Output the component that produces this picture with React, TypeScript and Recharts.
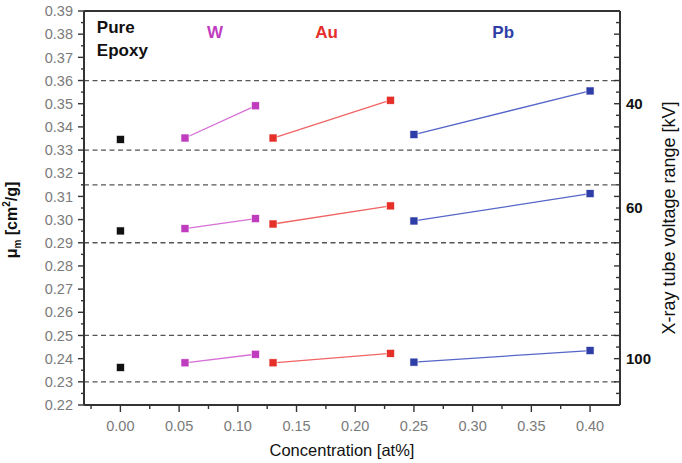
import React from 'react';
import { ComposedChart, Line, XAxis, YAxis, ReferenceLine, ReferenceDot } from 'recharts';

// ---- data (x: concentration at%, y: mass attenuation coefficient cm2/g) ----
const epoxyX = [0];
const epoxy40 = [0.3346];
const epoxy60 = [0.2951];
const epoxy100 = [0.2362];

const wX = [0.055, 0.115];
const w40 = [0.3352, 0.3491];
const w60 = [0.2961, 0.3004];
const w100 = [0.2382, 0.2419];

const auX = [0.13, 0.23];
const au40 = [0.3352, 0.3515];
const au60 = [0.2981, 0.3059];
const au100 = [0.2382, 0.2423];

const pbX = [0.25, 0.40];
const pb40 = [0.3367, 0.3555];
const pb60 = [0.2994, 0.3112];
const pb100 = [0.2385, 0.2435];

const bandLines = [0.36, 0.33, 0.315, 0.29, 0.25, 0.23];
const voltageLabels = [
  { y: 0.35, label: '40' },
  { y: 0.305, label: '60' },
  { y: 0.24, label: '100' },
];

const xTicks = [-0.025, 0, 0.025, 0.05, 0.075, 0.1, 0.125, 0.15, 0.175, 0.2, 0.225, 0.25, 0.275, 0.3, 0.325, 0.35, 0.375, 0.4];
const yTicks: number[] = [];
for (let k = 0; k <= 34; k++) yTicks.push(Math.round((0.22 + k * 0.005) * 1000) / 1000);

const X_DOMAIN = [-0.031, 0.4255];
const Y_DOMAIN = [0.22, 0.39];

const C_BLACK = '#111111';
const C_W = '#c03cbf';
const C_W_LINE = '#d66fd6';
const C_AU = '#e5302a';
const C_AU_LINE = '#f06464';
const C_PB = '#2e3ea6';
const C_PB_LINE = '#5566c8';

const seg = (xs: number[], ys: number[]) => xs.map((x, i) => ({ x, y: ys[i] }));

const isMajor = (v: number, step: number) => {
  const r = v / step;
  return Math.abs(r - Math.round(r)) < 1e-6;
};

const LeftTick = (props: any) => {
  const { x, y, payload } = props;
  const v = payload.value as number;
  const major = isMajor(v, 0.01);
  return (
    <g>
      <line x1={x} x2={x - (major ? 6 : 3)} y1={y} y2={y} stroke="#333" strokeWidth={1.4} />
      {major && (
        <text x={x - 11} y={y} dy="0.355em" textAnchor="end" fill="#7a7a7a" fontSize={14.5}>
          {v.toFixed(2)}
        </text>
      )}
    </g>
  );
};

const RightTick = (props: any) => {
  const { x, y, payload } = props;
  const v = payload.value as number;
  const major = isMajor(v, 0.01);
  const lab = voltageLabels.find((l) => Math.abs(l.y - v) < 1e-6);
  return (
    <g>
      <line x1={x} x2={x - (major ? 6 : 4)} y1={y} y2={y} stroke="#333" strokeWidth={1.4} />
      {lab && (
        <text x={x + 6} y={y} dy="0.355em" textAnchor="start" fill="#111" fontSize={15} fontWeight="bold">
          {lab.label}
        </text>
      )}
    </g>
  );
};

const BottomTick = (props: any) => {
  const { x, y, payload } = props;
  const v = payload.value as number;
  const major = isMajor(v, 0.05);
  return (
    <g>
      <line x1={x} x2={x} y1={y} y2={y + (major ? 7 : 4)} stroke="#333" strokeWidth={1.4} />
      {major && (
        <text x={x} y={y + 25.5} textAnchor="middle" fill="#7a7a7a" fontSize={14.5}>
          {v.toFixed(2)}
        </text>
      )}
    </g>
  );
};

const makeDot = (color: string) => (props: any) => {
  const { cx, cy, index } = props;
  if (cx == null || cy == null) return <g key={index} />;
  return (
    <rect key={index} x={cx - 4} y={cy - 4} width={8} height={8} fill={color} stroke="#ffffff" strokeWidth={0.6} />
  );
};

const LeftLabel = (props: any) => {
  const { viewBox } = props;
  const cx = viewBox.x + 17;
  const cy = viewBox.y + viewBox.height / 2 + 12;
  return (
    <text
      x={cx}
      y={cy}
      transform={`rotate(-90, ${cx}, ${cy})`}
      textAnchor="middle"
      fill="#111"
      fontSize={16}
      fontWeight="bold"
    >
      μ<tspan dy={4} fontSize={10}>m</tspan>
      <tspan dy={-4}> [cm</tspan>
      <tspan dy={-7} fontSize={10}>2</tspan>
      <tspan dy={7}>/g]</tspan>
    </text>
  );
};

const RightLabel = (props: any) => {
  const { viewBox } = props;
  const cx = viewBox.x + 55;
  const cy = viewBox.y + viewBox.height / 2 + 10;
  return (
    <text
      x={cx}
      y={cy}
      transform={`rotate(-90, ${cx}, ${cy})`}
      textAnchor="middle"
      fill="#111"
      fontSize={18}
    >
      X-ray tube voltage range [kV]
    </text>
  );
};

const BottomLabel = (props: any) => {
  const { viewBox } = props;
  const cx = viewBox.x + viewBox.width / 2 - 10;
  return (
    <text x={cx} y={viewBox.y + 51} textAnchor="middle" fill="#111" fontSize={16.5}>
      Concentration [at%]
    </text>
  );
};

const series = [
  { name: 'epoxy40', data: seg(epoxyX, epoxy40), dot: C_BLACK, line: C_BLACK },
  { name: 'epoxy60', data: seg(epoxyX, epoxy60), dot: C_BLACK, line: C_BLACK },
  { name: 'epoxy100', data: seg(epoxyX, epoxy100), dot: C_BLACK, line: C_BLACK },
  { name: 'w40', data: seg(wX, w40), dot: C_W, line: C_W_LINE },
  { name: 'w60', data: seg(wX, w60), dot: C_W, line: C_W_LINE },
  { name: 'w100', data: seg(wX, w100), dot: C_W, line: C_W_LINE },
  { name: 'au40', data: seg(auX, au40), dot: C_AU, line: C_AU_LINE },
  { name: 'au60', data: seg(auX, au60), dot: C_AU, line: C_AU_LINE },
  { name: 'au100', data: seg(auX, au100), dot: C_AU, line: C_AU_LINE },
  { name: 'pb40', data: seg(pbX, pb40), dot: C_PB, line: C_PB_LINE },
  { name: 'pb60', data: seg(pbX, pb60), dot: C_PB, line: C_PB_LINE },
  { name: 'pb100', data: seg(pbX, pb100), dot: C_PB, line: C_PB_LINE },
];

const annotations = [
  { x: -0.0205, y: 0.3832, text: 'Pure', color: '#111', pos: 'right' },
  { x: -0.0205, y: 0.3733, text: 'Epoxy', color: '#111', pos: 'right' },
  { x: 0.0805, y: 0.3808, text: 'W', color: C_W, pos: 'center' },
  { x: 0.1755, y: 0.3808, text: 'Au', color: C_AU, pos: 'center' },
  { x: 0.326, y: 0.3808, text: 'Pb', color: C_PB, pos: 'center' },
];

export default function App() {
  return (
    <div
      style={{
        position: 'absolute',
        left: 0,
        top: 0,
        width: 682,
        height: 463,
        background: '#ffffff',
        fontFamily: '"Liberation Sans", Arial, sans-serif',
      }}
    >
      <ComposedChart width={682} height={463} margin={{ top: 11, right: 0, bottom: 0, left: 0 }}>
        <XAxis
          type="number"
          dataKey="x"
          domain={X_DOMAIN}
          ticks={xTicks}
          interval={0}
          height={58}
          tickSize={0}
          tickMargin={0}
          tick={<BottomTick />}
          axisLine={{ stroke: '#333', strokeWidth: 2 }}
          allowDataOverflow
          label={<BottomLabel />}
        />
        <YAxis
          yAxisId="left"
          type="number"
          domain={Y_DOMAIN}
          ticks={yTicks}
          interval={0}
          width={84}
          tickSize={0}
          tickMargin={0}
          tick={<LeftTick />}
          axisLine={{ stroke: '#333', strokeWidth: 2 }}
          allowDataOverflow
          label={<LeftLabel />}
        />
        <YAxis
          yAxisId="right"
          orientation="right"
          type="number"
          domain={Y_DOMAIN}
          ticks={yTicks.filter((t) => t > 0.22 && t < 0.39)}
          interval={0}
          width={62}
          tickSize={0}
          tickMargin={0}
          tick={<RightTick />}
          axisLine={{ stroke: '#333', strokeWidth: 2 }}
          allowDataOverflow
          label={<RightLabel />}
        />
        {bandLines.map((v) => (
          <ReferenceLine
            key={`band-${v}`}
            yAxisId="left"
            y={v}
            stroke="#555"
            strokeWidth={1.3}
            strokeDasharray="5 3.5"
          />
        ))}
        <ReferenceLine yAxisId="left" y={0.39} stroke="#333" strokeWidth={2} />
        {series.map((s) => (
          <Line
            key={s.name}
            yAxisId="left"
            data={s.data}
            dataKey="y"
            name={s.name}
            stroke={s.line}
            strokeWidth={1.3}
            dot={makeDot(s.dot)}
            activeDot={false}
            isAnimationActive={false}
            legendType="none"
          />
        ))}
        {annotations.map((a) => (
          <ReferenceDot
            key={a.text}
            yAxisId="left"
            x={a.x}
            y={a.y}
            r={0.5}
            fill="none"
            stroke="none"
            label={{
              value: a.text,
              position: a.pos as any,
              offset: 0,
              fill: a.color,
              fontSize: 17,
              fontWeight: 'bold',
            }}
          />
        ))}
      </ComposedChart>
    </div>
  );
}
